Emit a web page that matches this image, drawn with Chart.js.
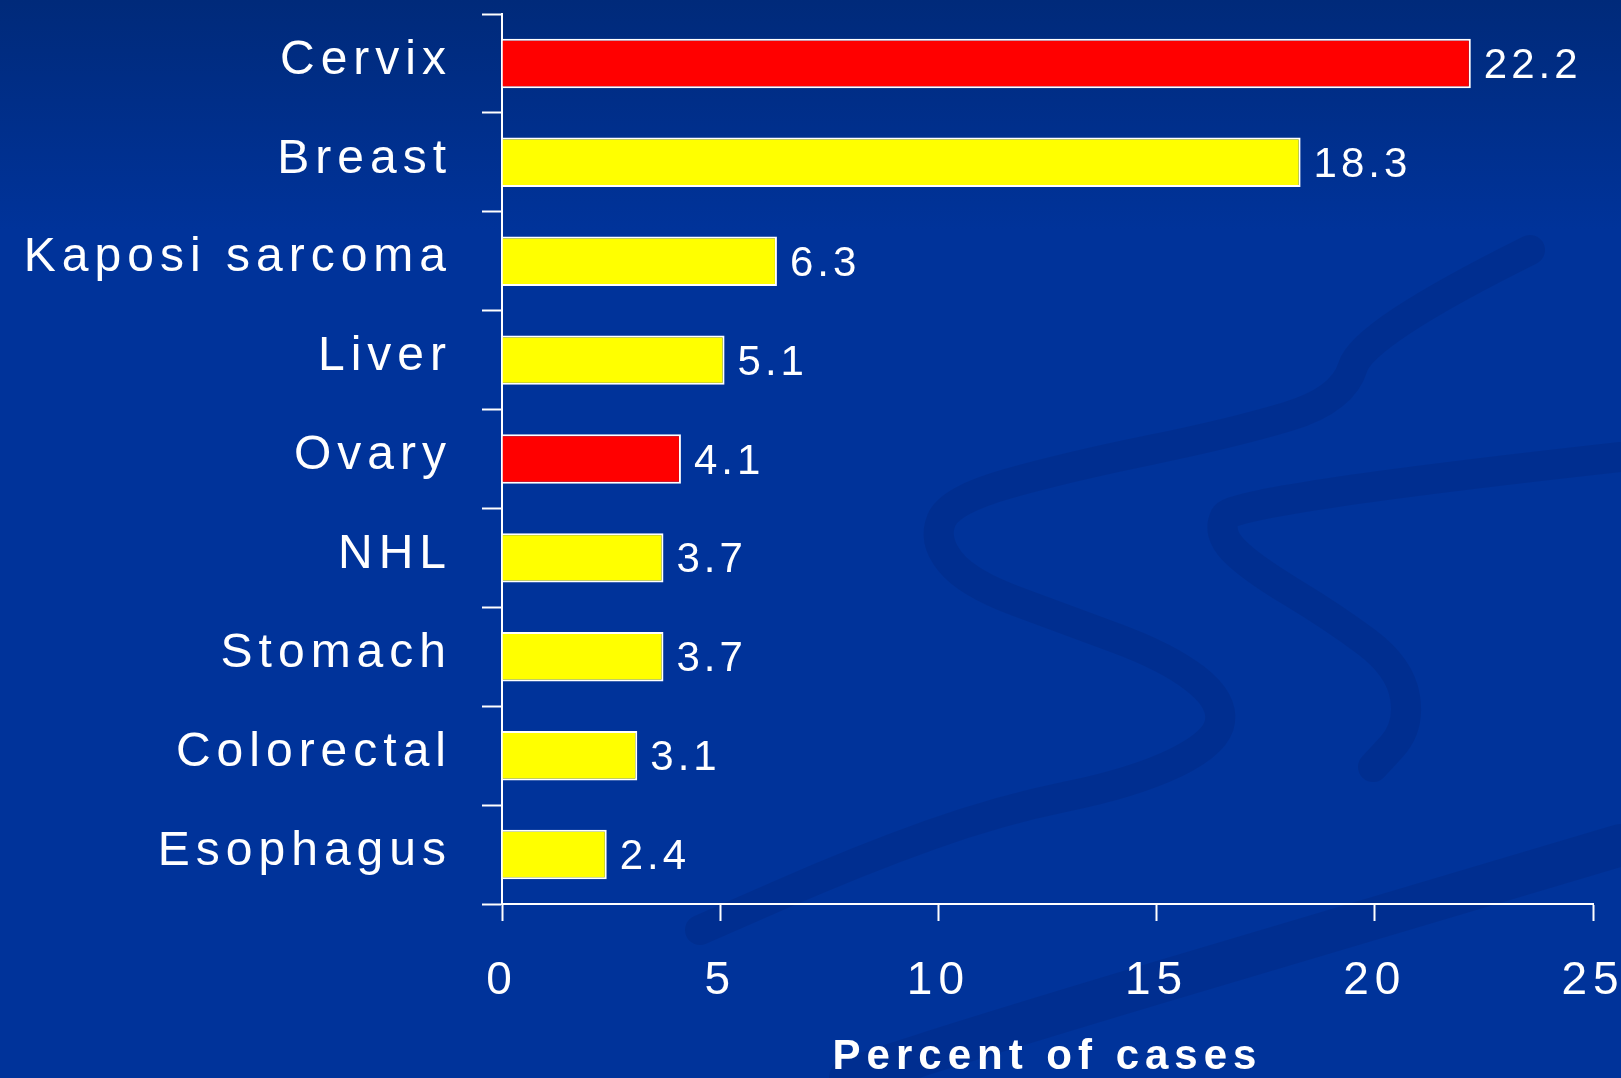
<!DOCTYPE html>
<html>
<head>
<meta charset="utf-8">
<script src="https://cdn.jsdelivr.net/npm/chart.js@4.4.1/dist/chart.umd.min.js"></script>
<style>
  html, body { margin: 0; padding: 0; }
  body { width: 1621px; height: 1078px; overflow: hidden;
         background: linear-gradient(#002a7a 0px, #00339a 230px, #00339a 100%); }
  canvas { display: block; }
</style>
</head>
<body>
<canvas id="chart" width="1621" height="1078"></canvas>
<script>
const categories = ['Cervix', 'Breast', 'Kaposi sarcoma', 'Liver', 'Ovary', 'NHL', 'Stomach', 'Colorectal', 'Esophagus'];
const percents = [22.2, 18.3, 6.3, 5.1, 4.1, 3.7, 3.7, 3.1, 2.4];
const barColors = ['#ff0000', '#ffff00', '#ffff00', '#ffff00', '#ff0000', '#ffff00', '#ffff00', '#ffff00', '#ffff00'];
const xTickValues = [0, 5, 10, 15, 20, 25];
const axisTitle = 'Percent of cases';

const FONT = "'Liberation Sans Narrow', 'Arial Narrow', 'Liberation Sans', Arial, sans-serif";
const SPACING = '6px';

// faint background swooshes
const swooshes = [
    [[1530, 250], [1363, 333], [1343, 400], [1233, 433], [1067, 467], [950, 500], [933, 540], [967, 583], [1067, 620], [1167, 657], [1223, 700], [1217, 743], [1133, 783], [1000, 810], [860, 860], [700, 930]],
    [[1621, 457], [1233, 500], [1217, 533], [1250, 567], [1333, 617], [1400, 667], [1410, 727], [1373, 767]],
    [[1621, 845], [1300, 940], [1000, 1030], [850, 1078]]
];

const backdropPlugin = {
    id: 'backdrop',
    beforeDraw(chart) {
        const ctx = chart.ctx;
        ctx.save();
        ctx.strokeStyle = 'rgba(0, 25, 95, 0.16)';
        ctx.lineCap = 'round';
        swooshes.forEach(function (pts, i) {
            ctx.lineWidth = i === 2 ? 42 : 30;
            ctx.beginPath();
            ctx.moveTo(pts[0][0], pts[0][1]);
            for (let k = 1; k < pts.length - 1; k++) {
                const mx = (pts[k][0] + pts[k + 1][0]) / 2;
                const my = (pts[k][1] + pts[k + 1][1]) / 2;
                ctx.quadraticCurveTo(pts[k][0], pts[k][1], mx, my);
            }
            const last = pts[pts.length - 1];
            ctx.lineTo(last[0], last[1]);
            ctx.stroke();
        });
        ctx.restore();
        ctx.letterSpacing = SPACING;
    }
};

const spacingPlugin = {
    id: 'spacing',
    beforeLayout(chart) { chart.ctx.letterSpacing = SPACING; },
    beforeDatasetsDraw(chart) { chart.ctx.letterSpacing = SPACING; }
};

const valueLabelPlugin = {
    id: 'valueLabels',
    afterDatasetsDraw(chart) {
        const ctx = chart.ctx;
        const meta = chart.getDatasetMeta(0);
        ctx.save();
        ctx.letterSpacing = '4px';
        ctx.font = '42px ' + FONT;
        ctx.fillStyle = '#ffffff';
        ctx.textAlign = 'left';
        ctx.textBaseline = 'middle';
        meta.data.forEach(function (bar, i) {
            ctx.fillText(percents[i].toFixed(1), bar.x + 13, bar.y + 3);
        });
        ctx.restore();
    }
};

new Chart(document.getElementById('chart'), {
    type: 'bar',
    data: {
        labels: categories,
        datasets: [{
            data: percents,
            backgroundColor: barColors,
            borderColor: '#ffffff',
            borderWidth: 2,
            borderSkipped: 'start',
            categoryPercentage: 1,
            barPercentage: 0.5
        }]
    },
    options: {
        indexAxis: 'y',
        responsive: false,
        animation: false,
        layout: { padding: { top: 14, right: 28, left: 0, bottom: 0 } },
        plugins: {
            legend: { display: false },
            tooltip: { enabled: false }
        },
        scales: {
            x: {
                min: 0,
                max: 25,
                afterBuildTicks(scale) {
                    scale.ticks = xTickValues.map(v => ({ value: v }));
                },
                afterFit(scale) {
                    scale.height = 174;
                    scale.paddingLeft = 0;
                    scale.paddingRight = 0;
                },
                border: { display: true, color: '#ffffff', width: 2 },
                grid: {
                    drawOnChartArea: false,
                    drawTicks: true,
                    tickLength: 17,
                    tickWidth: 2,
                    tickColor: '#ffffff'
                },
                ticks: {
                    color: '#ffffff',
                    font: { family: FONT, size: 46 },
                    padding: 33,
                    maxRotation: 0
                },
                title: {
                    display: true,
                    text: axisTitle,
                    color: '#ffffff',
                    font: { family: FONT, size: 42, weight: 'bold', lineHeight: 1 },
                    padding: { top: 0, bottom: 0 }
                }
            },
            y: {
                afterFit(scale) {
                    scale.width = 502;
                    scale.paddingTop = 0;
                    scale.paddingBottom = 0;
                },
                border: { display: true, color: '#ffffff', width: 2 },
                grid: {
                    offset: true,
                    drawOnChartArea: false,
                    drawTicks: true,
                    tickLength: 20,
                    tickWidth: 2,
                    tickColor: '#ffffff'
                },
                ticks: {
                    color: '#ffffff',
                    font: { family: FONT, size: 48 },
                    padding: 30,
                    labelOffset: -3
                }
            }
        }
    },
    plugins: [backdropPlugin, spacingPlugin, valueLabelPlugin]
});
</script>
</body>
</html>
